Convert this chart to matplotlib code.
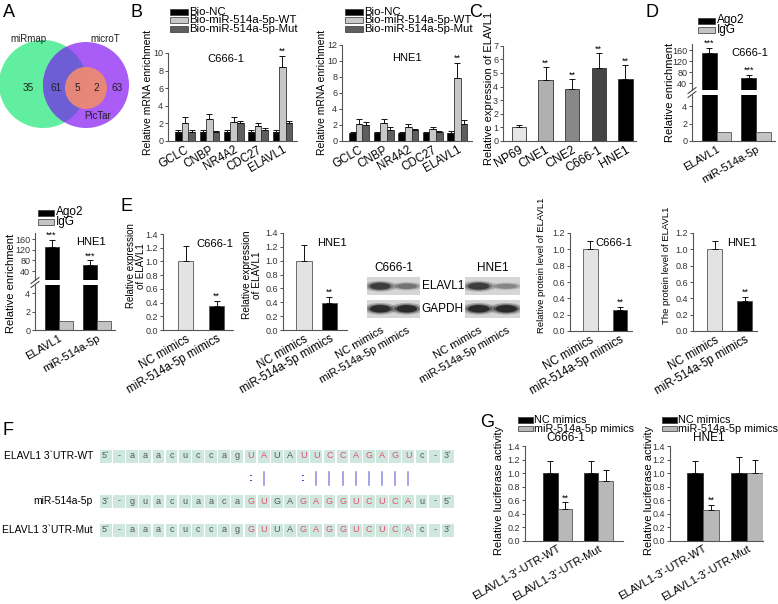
import numpy as np
import matplotlib
matplotlib.use('Agg')
import matplotlib.pyplot as plt
from matplotlib.patches import Circle, Rectangle, Ellipse
from matplotlib.ticker import FormatStrFormatter

plt.rcParams['font.family'] = ['Liberation Sans', 'DejaVu Sans']

W, H = 778, 604

# ---- data ----
# A: Venn counts
venn_sets = ['miRmap', 'microT', 'PicTar']
venn_counts = [35, 61, 5, 2, 63]   # miRmap only, miRmap&microT, all three, microT&PicTar, microT only

# B: RNA pull-down
genes = ['GCLC', 'CNBP', 'NR4A2', 'CDC27', 'ELAVL1']
b_labels = ['Bio-NC', 'Bio-miR-514a-5p-WT', 'Bio-miR-514a-5p-Mut']
b_c666 = [[1.0, 1.0, 1.0, 1.0, 1.0], [2.1, 2.5, 2.2, 1.7, 8.4], [1.0, 1.0, 2.0, 1.3, 2.0]]
b_c666_err = [[0.2, 0.2, 0.2, 0.2, 0.2], [0.6, 0.6, 0.5, 0.3, 1.3], [0.2, 0.15, 0.3, 0.2, 0.3]]
b_hne1 = [[1.0, 1.0, 1.0, 1.0, 1.0], [2.1, 2.2, 1.7, 1.5, 7.9], [2.0, 1.4, 1.4, 1.1, 2.1]]
b_hne1_err = [[0.15, 0.15, 0.15, 0.1, 0.2], [0.6, 0.5, 0.4, 0.2, 1.9], [0.4, 0.3, 0.1, 0.2, 0.5]]

# C: ELAVL1 expression in cell lines
c_lines = ['NP69', 'CNE1', 'CNE2', 'C666-1', 'HNE1']
c_vals = [1.0, 4.45, 3.8, 5.33, 4.52]
c_err = [0.15, 0.95, 0.72, 1.1, 1.03]

# D: RIP
d_cats = ['ELAVL1', 'miR-514a-5p']
d_c666_ago2 = [149, 59]
d_c666_ago2_err = [19, 10]
d_hne1_ago2 = [131, 63]
d_hne1_ago2_err = [27, 17]
d_igg = [1.0, 1.0]

# E: ELAVL1 after mimics
e_groups = ['NC mimics', 'miR-514a-5p mimics']
e_rna_c666 = [1.0, 0.35]
e_rna_c666_err = [0.22, 0.07]
e_rna_hne1 = [1.0, 0.39]
e_rna_hne1_err = [0.22, 0.09]
e_prot_c666 = [1.0, 0.26]
e_prot_c666_err = [0.1, 0.04]
e_prot_hne1 = [1.0, 0.37]
e_prot_hne1_err = [0.1, 0.05]
blot_c666 = {'ELAVL1': [0.85, 0.55], 'GAPDH': [0.95, 0.95]}
blot_hne1 = {'ELAVL1': [0.85, 0.45], 'GAPDH': [0.95, 0.95]}

# F: sequences
seq_wt = "5` - a a a c u c c a g U A U A U U C C A G A G U c - 3`".split()
seq_mir = "3` - g u a c u a a c a G U G A G A G G U C U C A u - 5`".split()
seq_mut = "5` - a a a c u c c a g G U U A G A G G U C U C A c - 3`".split()
seq_red = "0 0 0 0 0 0 0 0 0 0 0 1 1 0 0 1 1 1 1 1 1 1 1 1 0 0 0".split()
pair_marks = [''] * 11 + [':', '|', '', '', ':', '|', '|', '|', '|', '|', '|', '|', '|'] + [''] * 3

# G: luciferase
g_cats = ["ELAVL1-3'-UTR-WT", "ELAVL1-3'-UTR-Mut"]
g_c666_nc = [1.0, 1.0]
g_c666_nc_err = [0.18, 0.18]
g_c666_mir = [0.47, 0.88]
g_c666_mir_err = [0.1, 0.16]
g_hne1_nc = [1.0, 1.0]
g_hne1_nc_err = [0.18, 0.24]
g_hne1_mir = [0.45, 1.0]
g_hne1_mir_err = [0.08, 0.2]

fig = plt.figure(figsize=(W / 100, H / 100), dpi=100)

ov = fig.add_axes([0, 0, 1, 1], zorder=10)
ov.set_xlim(0, W)
ov.set_ylim(H, 0)
ov.axis('off')


def px_axes(l, t, r, b):
    return fig.add_axes([l / W, 1 - b / H, (r - l) / W, (b - t) / H])


def style(ax, ylim, yticks, fmt='%d'):
    for s in ['top', 'right']:
        ax.spines[s].set_visible(False)
    for s in ['left', 'bottom']:
        ax.spines[s].set_color('#555555')
        ax.spines[s].set_linewidth(0.8)
    ax.set_ylim(*ylim)
    ax.set_yticks(yticks)
    ax.yaxis.set_major_formatter(FormatStrFormatter(fmt))
    ax.tick_params(axis='y', labelsize=6.5, length=2, width=0.6, pad=1.5, colors='#333333')
    ax.tick_params(axis='x', length=0, pad=2)


def bars(ax, x, v, e, color, ec='#333333', w=0.5):
    ax.bar(x, v, w, color=color, edgecolor=ec, linewidth=0.6)
    ax.errorbar(x, v, yerr=[np.zeros(len(v)), e], fmt='none', ecolor='#111111',
                elinewidth=0.7, capsize=2, capthick=0.7)


def stars(ax, x, top, s='**'):
    ax.text(x, top, s, ha='center', va='bottom', fontsize=6.5)


def xlabels(ax, pos, labels, fs=8):
    ax.set_xticks(pos)
    ax.set_xticklabels(labels, rotation=30, ha='right', rotation_mode='anchor', fontsize=fs)


def legend_px(x, y0, dy, labels, colors, bw=18, bh=6, fs=8):
    for i, (lab, c) in enumerate(zip(labels, colors)):
        y = y0 + i * dy
        ov.add_patch(Rectangle((x, y - bh / 2), bw, bh, fc=c, ec='#333333', lw=0.5))
        ov.text(x + bw + 1.5, y, lab, va='center', ha='left', fontsize=fs)


def ylab(x, y, text, fs=8):
    ov.text(x, y, text, rotation=90, ha='center', va='center', fontsize=fs, linespacing=1.0)


# panel letters
for letter, (x, y) in {'A': (3, 4), 'B': (131, 4), 'C': (469, 4), 'D': (646, 4),
                       'E': (121, 198), 'F': (3, 422), 'G': (480, 414)}.items():
    ov.text(x, y, letter, fontsize=13, ha='left', va='top')

# ---- A: Venn ----
g_circ = Circle((43, 84), 44, fc='#62eea0', ec='none')
p_circ = Circle((86, 85), 43, fc='#a95cf6', ec='none')
ov.add_patch(g_circ)
ov.add_patch(p_circ)
lens = Circle((43, 84), 44, fc='#6e5ed6', ec='none')
ov.add_patch(lens)
lens.set_clip_path(p_circ)
ov.add_patch(Circle((86, 88), 21, fc='#ef8a70', ec='none', alpha=0.92))
ov.text(28, 39, venn_sets[0], ha='center', va='center', fontsize=7, color='#222222')
ov.text(105, 39, venn_sets[1], ha='center', va='center', fontsize=7, color='#222222')
ov.text(98, 116, venn_sets[2], ha='center', va='center', fontsize=7, color='#222222')
for xc, n in zip([28, 56, 77, 96, 117], venn_counts):
    ov.text(xc, 88, str(n), ha='center', va='center', fontsize=7.2, color='#222222')

# ---- B ----
b_colors = ['#000000', '#c8c8c8', '#5e5e5e']
xg = np.arange(len(genes))
for (l, t, r, ylim, yt, data, err, title, tx, lx) in [
        (168, 53, 297, (0, 10), [0, 2, 4, 6, 8, 10], b_c666, b_c666_err, 'C666-1', 0.45, 148),
        (342, 45, 472, (0, 12), [0, 2, 4, 6, 8, 10, 12], b_hne1, b_hne1_err, 'HNE1', 0.5, 322)]:
    ax = px_axes(l, t, r, 141)
    for k in range(3):
        bars(ax, xg + (k - 1) * 0.27, data[k], err[k], b_colors[k], w=0.27)
    stars(ax, 4, data[1][4] + err[1][4])
    style(ax, ylim, yt)
    ax.set_xlim(-0.7, 4.6)
    xlabels(ax, xg, genes, 8.3)
    ax.text(tx, 0.93 if title == 'C666-1' else 0.86, title, transform=ax.transAxes,
            ha='center', va='center', fontsize=8)
    ylab(lx, 92, 'Relative mRNA enrichment', 7.5)
legend_px(170, 12, 8.3, b_labels, b_colors, fs=8.2)
legend_px(345, 12, 8.3, b_labels, b_colors, fs=8.2)

# ---- C ----
ax = px_axes(503, 45.7, 636, 141)
c_colors = ['#e6e6e6', '#b0b0b0', '#888888', '#444444', '#000000']
xc = np.arange(len(c_lines))
bars(ax, xc, c_vals, c_err, c_colors, w=0.54)
for i in range(1, 5):
    stars(ax, i, c_vals[i] + c_err[i])
style(ax, (0, 7), range(8))
ax.set_xlim(-0.6, 4.4)
xlabels(ax, xc, c_lines, 8.8)
ylab(489, 88, 'Relative expression of ELAVL1')


# ---- D ----
def rip(l, r, top_t, top_b, low_t, low_b, top_ylim, low_ylim, ago2, ago2_err, title, lab_x, lab_y):
    xd = np.arange(len(d_cats))
    w = 0.37
    axt = px_axes(l, top_t, r, top_b)
    axl = px_axes(l, low_t, r, low_b)
    bars(axt, xd - w / 2, ago2, ago2_err, '#000000', w=w)
    for i in range(2):
        stars(axt, i - w / 2, ago2[i] + ago2_err[i], '***')
    style(axt, top_ylim, [40, 80, 120, 160])
    axt.spines['bottom'].set_visible(False)
    axt.set_xticks([])
    axt.set_xlim(-0.62, 1.48)
    axl.bar(xd - w / 2, ago2, w, color='#000000', edgecolor='#333333', linewidth=0.6)
    axl.bar(xd + w / 2, d_igg, w, color='#c4c4c4', edgecolor='#555555', linewidth=0.6)
    style(axl, low_ylim, [0, 2, 4])
    axl.set_xlim(-0.62, 1.48)
    xlabels(axl, xd, d_cats)
    axt.text(0.7, 0.8, title, transform=axt.transAxes, ha='center', va='center', fontsize=8)
    gap = (top_b + low_t) / 2
    for dy in (-2, 2):
        ov.plot([l - 4, l + 4], [gap + dy + 3, gap + dy - 3], color='#333333', lw=0.7)
    ylab(lab_x, lab_y, 'Relative enrichment')


rip(692, 775, 44, 90, 95, 141, (15, 182), (0, 5.26), d_c666_ago2, d_c666_ago2_err, 'C666-1', 670, 92)
legend_px(698, 20.5, 9, ['Ago2', 'IgG'], ['#000000', '#c4c4c4'], bw=17, fs=8.5)
rip(35, 115, 233, 280, 285, 330, (6, 184), (0, 4.9), d_hne1_ago2, d_hne1_ago2_err, 'HNE1', 11, 283)
legend_px(38, 212.5, 9, ['Ago2', 'IgG'], ['#000000', '#c4c4c4'], bw=16, fs=8.5)


# ---- E ----
def mimic(l, r, t, b, vals, err, ylim, yt, title, xlim, w):
    ax = px_axes(l, t, r, b)
    xe = np.arange(2)
    bars(ax, xe, vals, err, ['#e3e3e3', '#000000'], ec='#555555', w=w)
    stars(ax, 1, vals[1] + err[1])
    style(ax, ylim, yt, '%.1f')
    ax.set_xlim(*xlim)
    xlabels(ax, xe, e_groups, 8.3)
    ax.text(1.0, 0.9, title, transform=ax.transAxes, ha='right', va='center', fontsize=8)
    return ax


rt = np.round(np.arange(0, 1.41, 0.2), 1)
pt = np.round(np.arange(0, 1.21, 0.2), 1)
mimic(163, 233, 234, 330, e_rna_c666, e_rna_c666_err, (0, 1.4), rt, 'C666-1', (-0.73, 1.53), 0.48)
ylab(136, 266, 'Relative expression\nof ELAVL1', 7)
mimic(283, 347, 233, 330, e_rna_hne1, e_rna_hne1_err, (0, 1.4), rt, 'HNE1', (-0.82, 1.69), 0.6)
ylab(252, 275, 'Relative expression\nof ELAVL1', 7.3)
mimic(570, 632, 233, 331, e_prot_c666, e_prot_c666_err, (0, 1.2), pt, 'C666-1', (-0.69, 1.41), 0.5)
ylab(542, 265, 'Relative protein level of ELAVL1', 6.8)
mimic(693, 757, 233, 331, e_prot_hne1, e_prot_hne1_err, (0, 1.2), pt, 'HNE1', (-0.73, 1.4), 0.5)
ylab(667, 265, 'The protein level of ELAVL1', 6.8)


def blot(l, r, blot_data, title, names):
    ax = px_axes(l, 277, r, 318)
    ax.set_xlim(0, 2)
    ax.set_ylim(0, 2)
    for row, (name, ints) in enumerate(blot_data.items()):
        y0 = 1.1 if row == 0 else 0.0
        ax.add_patch(Rectangle((0, y0), 2, 0.9, fc='#d6d6d6', ec='none'))
        for lane, it in enumerate(ints):
            hgt = 0.12 + 0.25 * it
            for k, a in [(1.6, 0.25), (1.25, 0.45), (1.0, 0.9)]:
                ax.add_patch(Ellipse((lane + 0.5, y0 + 0.45), 0.78 * k, hgt * k,
                                     fc=str(0.85 - 0.75 * it), ec='none', alpha=a))
        if names:
            ax.text(2.06, y0 + 0.45, name, ha='left', va='center', fontsize=8.5)
    for s in ax.spines.values():
        s.set_visible(False)
    ax.set_yticks([])
    ax.tick_params(axis='x', length=0, pad=5)
    xlabels(ax, [0.5, 1.5], e_groups)
    ax.set_title(title, fontsize=8.5, pad=4)


blot(367, 420, blot_c666, 'C666-1', True)
blot(465, 520, blot_hne1, 'HNE1', False)

# ---- F ----
x0, cw = 100, 13.15
for yc, seq in [(456, seq_wt), (501, seq_mir), (530, seq_mut)]:
    for i, (ch, red) in enumerate(zip(seq, seq_red)):
        ov.add_patch(Rectangle((x0 + i * cw, yc - 6.5), cw - 1.4, 13, fc='#cfe8df', ec='none'))
        ov.text(x0 + i * cw + (cw - 1.4) / 2, yc, ch, ha='center', va='center', fontsize=6.5,
                color='#e0506a' if red == '1' else '#555555')
for i, m in enumerate(pair_marks):
    xm = x0 + i * cw + (cw - 1.4) / 2
    if m == '|':
        ov.plot([xm, xm], [472, 485], color='#8c8ce0', lw=1.1)
    elif m == ':':
        ov.text(xm, 478, ':', ha='center', va='center', fontsize=8, color='#1a2aa0', fontweight='bold')
for yc, name in [(456, 'ELAVL1 3`UTR-WT'), (501, 'miR-514a-5p'), (530, 'ELAVL1 3`UTR-Mut')]:
    ov.text(93, yc, name, ha='right', va='center', fontsize=7.4)


# ---- G ----
def luc(l, r, nc, nc_err, mir, mir_err, xlim, title, lab_x, leg_x):
    ax = px_axes(l, 446, r, 541)
    xg2 = np.arange(2)
    w = 0.36
    bars(ax, xg2 - w / 2, nc, nc_err, '#000000', w=w)
    bars(ax, xg2 + w / 2, mir, mir_err, '#b8b8b8', ec='#555555', w=w)
    stars(ax, w / 2, mir[0] + mir_err[0])
    style(ax, (0, 1.4), rt, '%.1f')
    ax.set_xlim(*xlim)
    xlabels(ax, xg2, g_cats)
    ax.text(0.42, 1.08, title, transform=ax.transAxes, ha='center', va='center', fontsize=8.5)
    ylab(lab_x, 490, 'Relative luciferase activity')
    legend_px(leg_x, 420, 8.7, ['NC mimics', 'miR-514a-5p mimics'], ['#000000', '#b8b8b8'],
              bw=15, bh=5.5, fs=7.8)


luc(525, 623, g_c666_nc, g_c666_nc_err, g_c666_mir, g_c666_mir_err, (-0.8, 1.61), 'C666-1', 499, 518)
luc(670, 763, g_hne1_nc, g_hne1_nc_err, g_hne1_mir, g_hne1_mir_err, (-0.75, 1.36), 'HNE1', 649, 662)

fig.savefig('out.png', dpi=100)
